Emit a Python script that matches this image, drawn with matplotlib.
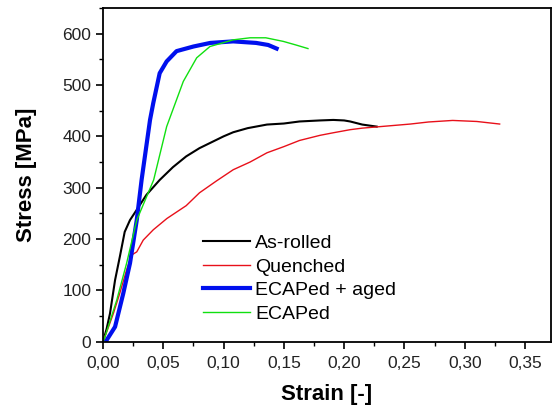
import matplotlib
matplotlib.use("Agg")
import matplotlib.pyplot as plt
from matplotlib.ticker import MultipleLocator, FuncFormatter

plt.rcParams['font.family'] = ['Liberation Sans', 'DejaVu Sans']

# As-rolled
as_rolled_strain = [0, 0.003, 0.0058, 0.010, 0.014, 0.018, 0.0224, 0.028, 0.036, 0.047, 0.058,
                    0.069, 0.080, 0.0887, 0.100, 0.108, 0.120, 0.136, 0.150, 0.163, 0.180,
                    0.191, 0.200, 0.205, 0.215, 0.227]
as_rolled_stress = [0, 25, 55, 120, 166, 214, 237, 257, 286, 315, 340,
                    361, 377, 387, 400, 408, 416, 423, 425, 429, 431,
                    432, 431, 429, 423, 419]

# Quenched
quenched_strain = [0, 0.004, 0.0086, 0.014, 0.0196, 0.0238, 0.028, 0.0334, 0.0417, 0.053, 0.069,
                   0.080, 0.094, 0.108, 0.122, 0.136, 0.150, 0.163, 0.180, 0.191, 0.205,
                   0.215, 0.230, 0.255, 0.270, 0.290, 0.310, 0.329]
quenched_stress = [0, 25, 55, 95, 140, 169, 175, 198, 218, 240, 265,
                   290, 313, 335, 350, 368, 380, 392, 402, 407, 413,
                   416, 419, 424, 428, 431, 429, 424]

# ECAPed + aged
aged_strain = [0.003, 0.010, 0.0168, 0.0224, 0.028, 0.032, 0.039, 0.0417, 0.047, 0.0528,
               0.061, 0.075, 0.089, 0.108, 0.127, 0.137, 0.144]
aged_stress = [3, 29, 94, 153, 237, 315, 432, 465, 523, 546,
               566, 575, 582, 585, 582, 578, 571]

# ECAPed
ecap_strain = [0, 0.0017, 0.0114, 0.0196, 0.028, 0.042, 0.0528, 0.0666, 0.0777, 0.0887,
               0.108, 0.122, 0.135, 0.1495, 0.160, 0.170]
ecap_stress = [0, 10, 81, 153, 237, 315, 419, 507, 553, 575,
               588, 592, 592, 585, 578, 571]

fig = plt.figure(figsize=(5.52, 4.11), dpi=100)
ax = fig.add_axes([0.1866, 0.1686, 0.8114, 0.8119])

ax.plot(as_rolled_strain, as_rolled_stress, color='black', lw=1.5, label='As-rolled')
ax.plot(quenched_strain, quenched_stress, color='#e8101a', lw=1.0, label='Quenched')
ax.plot(aged_strain, aged_stress, color='#0010ee', lw=3.0, label='ECAPed + aged')
ax.plot(ecap_strain, ecap_stress, color='#10e010', lw=1.0, label='ECAPed')

ax.set_xlim(0, 0.3715)
ax.set_ylim(0, 650)
ax.xaxis.set_major_locator(MultipleLocator(0.05))
ax.xaxis.set_minor_locator(MultipleLocator(0.025))
ax.yaxis.set_major_locator(MultipleLocator(100))
ax.yaxis.set_minor_locator(MultipleLocator(50))
ax.xaxis.set_major_formatter(FuncFormatter(lambda v, p: f"{v:.2f}".replace('.', ',')))
ax.yaxis.set_major_formatter(FuncFormatter(lambda v, p: f"{v:.0f}"))

ax.tick_params(which='major', direction='out', length=5, width=1.2, labelsize=12.5,
               labelcolor='#222222')
ax.tick_params(axis='x', which='major', pad=5)
ax.tick_params(which='minor', direction='out', length=3, width=1.0)
for s in ax.spines.values():
    s.set_linewidth(1.3)

ax.set_xlabel('Strain [-]', fontsize=16, fontweight='bold', labelpad=10)
ax.set_ylabel('Stress [MPa]', fontsize=16, fontweight='bold', labelpad=18)

ax.legend(loc='upper left', bbox_to_anchor=(0.223, 0.321), frameon=False, fontsize=14,
          handlelength=2.4, handletextpad=0.3, labelspacing=0.3,
          borderpad=0, borderaxespad=0)

fig.savefig('out.png', dpi=100)
